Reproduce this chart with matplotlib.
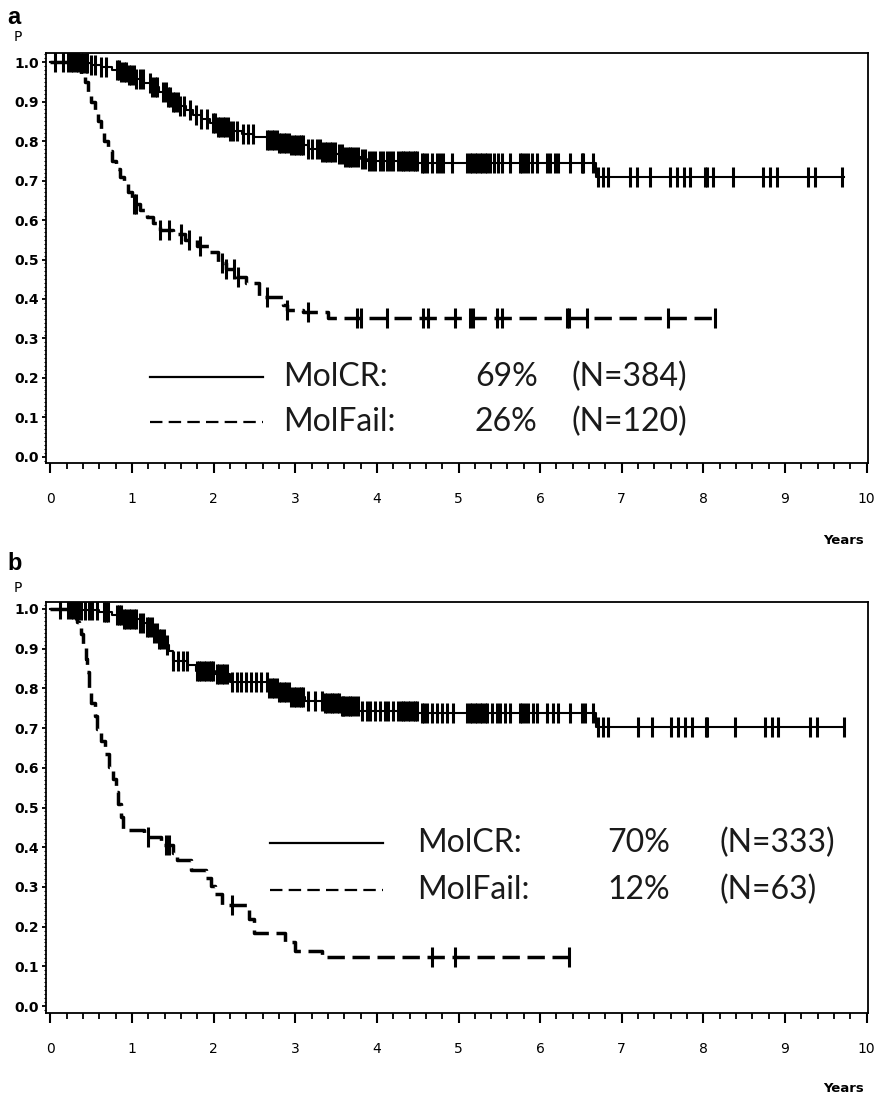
import numpy as np
import matplotlib
matplotlib.use('Agg')
import matplotlib.pyplot as plt
from matplotlib.ticker import MultipleLocator

# ---- data ----
# panel a
a_cr_t = [0.35, 0.5, 0.62, 0.75, 0.85, 0.95, 1.05, 1.15, 1.25, 1.33, 1.42, 1.5, 1.58, 1.66,
          1.75, 1.85, 1.95, 2.05, 2.2, 2.35, 2.5, 2.65, 2.8, 2.95, 3.15, 3.32, 3.5, 3.6, 3.8,
          3.88, 4.5, 6.68]
a_cr_s = [0.997, 0.992, 0.987, 0.98, 0.974, 0.967, 0.958, 0.948, 0.937, 0.925, 0.912, 0.9,
          0.889, 0.878, 0.866, 0.855, 0.845, 0.835, 0.826, 0.818, 0.81, 0.803, 0.796, 0.789,
          0.781, 0.772, 0.766, 0.76, 0.755, 0.75, 0.745, 0.709]
a_cr_cens = [0.05, 0.15, 0.22, 0.25, 0.28, 0.31, 0.34, 0.37, 0.4, 0.43, 0.45, 0.5, 0.55, 0.62,
             0.68, 0.81, 0.84, 0.87, 0.9, 0.93, 0.96, 0.99, 1.02, 1.05, 1.1, 1.13, 1.22, 1.25,
             1.28, 1.3, 1.38, 1.41, 1.44, 1.47, 1.5, 1.53, 1.56, 1.59, 1.63, 1.71, 1.78, 1.85,
             1.92, 1.99, 2.02, 2.05, 2.08, 2.11, 2.14, 2.17, 2.2, 2.24, 2.28, 2.36, 2.42, 2.48,
             2.65, 2.68, 2.71, 2.74, 2.77, 2.8, 2.83, 2.86, 2.89, 2.92, 2.95, 2.98, 3.01, 3.04,
             3.07, 3.09, 3.16, 3.21, 3.27, 3.3, 3.33, 3.36, 3.39, 3.42, 3.45, 3.49, 3.53, 3.57,
             3.61, 3.64, 3.67, 3.7, 3.73, 3.77, 3.82, 3.86, 3.9, 3.94, 3.98, 4.04, 4.07, 4.12,
             4.16, 4.2, 4.26, 4.29, 4.32, 4.35, 4.38, 4.41, 4.44, 4.47, 4.49, 4.55, 4.58, 4.61,
             4.67, 4.74, 4.77, 4.81, 4.92, 5.11, 5.14, 5.17, 5.2, 5.23, 5.26, 5.29, 5.32, 5.35,
             5.39, 5.43, 5.49, 5.53, 5.63, 5.75, 5.78, 5.81, 5.85, 5.9, 5.96, 6.08, 6.12, 6.18,
             6.22, 6.37, 6.51, 6.53, 6.65, 6.71, 6.77, 6.83, 7.1, 7.19, 7.35, 7.59, 7.68, 7.76,
             7.84, 8.02, 8.04, 8.12, 8.36, 8.73, 8.82, 8.9, 9.28, 9.37, 9.7]

a_fail_t = [0.34, 0.38, 0.42, 0.46, 0.5, 0.54, 0.58, 0.62, 0.66, 0.7, 0.75, 0.8, 0.85, 0.9,
            0.95, 1.0, 1.1, 1.18, 1.26, 1.34, 1.5, 1.65, 1.8, 1.95, 2.05, 2.15, 2.27, 2.4,
            2.55, 2.85, 2.9, 3.1, 3.4]
a_fail_s = [0.983, 0.967, 0.95, 0.925, 0.9, 0.875, 0.85, 0.825, 0.8, 0.775, 0.75, 0.73, 0.71,
            0.69, 0.67, 0.64, 0.625, 0.608, 0.592, 0.575, 0.565, 0.55, 0.535, 0.52, 0.49,
            0.475, 0.456, 0.44, 0.405, 0.385, 0.372, 0.366, 0.352]
a_fail_cens = [1.02, 1.05, 1.34, 1.45, 1.6, 1.7, 1.83, 2.1, 2.15, 2.25, 2.3, 2.65, 2.9, 3.15,
               3.75, 3.8, 4.12, 4.57, 4.62, 4.96, 5.14, 5.18, 5.47, 5.53, 6.33, 6.35, 6.57,
               7.57, 8.14]

# panel b
b_cr_t = [0.3, 0.6, 0.75, 0.9, 1.1, 1.18, 1.25, 1.32, 1.4, 1.45, 1.5, 1.68, 1.78, 2.02, 2.2,
          2.68, 2.8, 2.95, 3.12, 3.35, 3.57, 3.78, 4.5, 6.68]
b_cr_s = [0.997, 0.993, 0.985, 0.975, 0.965, 0.955, 0.94, 0.925, 0.91, 0.895, 0.87, 0.858,
          0.845, 0.835, 0.816, 0.8, 0.79, 0.779, 0.768, 0.764, 0.756, 0.743, 0.739, 0.703]
b_cr_cens = [0.12, 0.22, 0.25, 0.28, 0.31, 0.34, 0.38, 0.42, 0.47, 0.51, 0.57, 0.65, 0.68,
             0.71, 0.81, 0.84, 0.87, 0.9, 0.93, 0.96, 0.99, 1.02, 1.05, 1.1, 1.13, 1.18, 1.21,
             1.24, 1.27, 1.3, 1.33, 1.36, 1.39, 1.43, 1.5, 1.56, 1.62, 1.67, 1.79, 1.82, 1.85,
             1.88, 1.91, 1.94, 1.97, 1.99, 2.04, 2.07, 2.1, 2.13, 2.16, 2.22, 2.28, 2.34, 2.4,
             2.46, 2.52, 2.58, 2.65, 2.68, 2.71, 2.74, 2.77, 2.8, 2.83, 2.86, 2.89, 2.92, 2.95,
             2.98, 3.01, 3.04, 3.07, 3.09, 3.16, 3.24, 3.33, 3.37, 3.39, 3.42, 3.45, 3.48, 3.51,
             3.54, 3.57, 3.58, 3.61, 3.64, 3.67, 3.7, 3.73, 3.77, 3.82, 3.88, 3.91, 3.98, 4.04,
             4.1, 4.14, 4.2, 4.26, 4.29, 4.32, 4.35, 4.38, 4.41, 4.44, 4.47, 4.49, 4.55, 4.58,
             4.61, 4.67, 4.74, 4.8, 4.86, 4.93, 5.11, 5.14, 5.17, 5.2, 5.23, 5.26, 5.29, 5.32,
             5.35, 5.41, 5.47, 5.51, 5.57, 5.63, 5.75, 5.78, 5.81, 5.85, 5.91, 5.96, 6.08, 6.16,
             6.22, 6.37, 6.51, 6.55, 6.65, 6.71, 6.77, 6.83, 7.2, 7.37, 7.61, 7.69, 7.77, 7.86,
             8.03, 8.05, 8.39, 8.76, 8.84, 8.92, 9.31, 9.39, 9.72]

b_fail_t = [0.3, 0.33, 0.35, 0.37, 0.4, 0.43, 0.45, 0.47, 0.5, 0.54, 0.57, 0.62, 0.67, 0.72,
            0.77, 0.8, 0.83, 0.86, 0.89, 1.15, 1.35, 1.5, 1.55, 1.72, 1.9, 1.97, 2.02, 2.1,
            2.43, 2.5, 2.87, 3.0, 3.33]
b_fail_s = [0.984, 0.968, 0.952, 0.936, 0.905, 0.873, 0.841, 0.794, 0.762, 0.73, 0.698,
            0.667, 0.635, 0.603, 0.571, 0.54, 0.508, 0.476, 0.444, 0.425, 0.405, 0.386, 0.368,
            0.343, 0.323, 0.303, 0.283, 0.254, 0.22, 0.184, 0.161, 0.138, 0.123]
b_fail_cens = [1.2, 1.42, 1.45, 2.22, 4.68, 4.96, 6.35]

groups = ['MolCR:', 'MolFail:']
pct_a = ['69%', '26%']
n_a = ['(N=384)', '(N=120)']
pct_b = ['70%', '12%']
n_b = ['(N=333)', '(N=63)']


def km_value(t_ev, s_ev, t):
    # survival just after time t (post step)
    idx = np.searchsorted(np.array(t_ev), np.array(t), side='right')
    s = np.concatenate([[1.0], s_ev])
    return s[idx]


def km_plot(ax, t_ev, s_ev, cens, t_end, dashed):
    x = np.concatenate([[0.0], t_ev, [t_end]])
    y = np.concatenate([[1.0], s_ev, [s_ev[-1]]])
    if dashed:
        ax.step(x, y, where='post', color='black', lw=2.5, dashes=(5, 2.2),
                solid_capstyle='butt', dash_capstyle='butt')
    else:
        ax.step(x, y, where='post', color='black', lw=1.5)
    ax.plot(cens, km_value(t_ev, s_ev, cens), ls='none', marker='|', ms=14.5,
            mew=2.2, color='black')


def style_axes(ax, ylim):
    ax.set_xlim(-0.055, 10.018)
    ax.set_ylim(*ylim)
    for sp in ax.spines.values():
        sp.set_linewidth(1.3)
    ax.xaxis.set_major_locator(MultipleLocator(1))
    ax.xaxis.set_minor_locator(MultipleLocator(0.2))
    ax.yaxis.set_major_locator(MultipleLocator(0.1))
    ax.yaxis.set_minor_locator(MultipleLocator(0.01))
    ax.set_xticks(range(0, 11))
    ax.set_xticklabels([str(i) for i in range(0, 11)])
    ax.set_yticks(np.round(np.arange(0, 1.01, 0.1), 1))
    ax.set_yticklabels(['%.1f' % v for v in np.arange(0, 1.01, 0.1)])
    ax.tick_params(axis='x', which='major', direction='out', length=7, width=1.5, pad=14,
                   labelsize=10)
    ax.tick_params(axis='x', which='minor', direction='out', length=4, width=1.3)
    ax.tick_params(axis='y', which='major', direction='out', length=3, width=1.3, pad=2,
                   labelsize=10)
    ax.tick_params(axis='y', which='minor', direction='out', length=1.5, width=0.8)
    for lab in ax.get_yticklabels():
        lab.set_fontweight('bold')


def legend(ax, line_x, y_rows, txt_x, pcts, ns):
    ax.plot(line_x, [y_rows[0]] * 2, color='black', lw=1.6)
    ax.plot(line_x, [y_rows[1]] * 2, color='black', lw=1.6, dashes=(5.6, 2.8))
    for i in range(2):
        ax.text(txt_x[0], y_rows[i], groups[i], fontsize=23, family='Lato', color='#1a1a1a',
                va='center', ha='left')
        ax.text(txt_x[1], y_rows[i], pcts[i], fontsize=23, family='Lato', color='#1a1a1a',
                va='center', ha='left')
        ax.text(txt_x[2], y_rows[i], ns[i], fontsize=23, family='Lato', color='#1a1a1a',
                va='center', ha='left')


fig = plt.figure(figsize=(8.78, 10.98), dpi=100)
ax1 = fig.add_axes([46 / 878, 1 - 463 / 1098, 822 / 878, 410 / 1098])
ax2 = fig.add_axes([46 / 878, 1 - 1013 / 1098, 822 / 878, 411 / 1098])

km_plot(ax1, a_cr_t, a_cr_s, a_cr_cens, 9.72, False)
km_plot(ax1, a_fail_t, a_fail_s, a_fail_cens, 8.14, True)
style_axes(ax1, (-0.0152, 1.0228))
legend(ax1, [1.22, 2.6], [0.203, 0.089], [2.85, 5.2, 6.39], pct_a, n_a)

km_plot(ax2, b_cr_t, b_cr_s, b_cr_cens, 9.72, False)
km_plot(ax2, b_fail_t, b_fail_s, b_fail_cens, 6.35, True)
style_axes(ax2, (-0.0176, 1.0176))
legend(ax2, [2.69, 4.07], [0.41, 0.292], [4.49, 6.82, 8.2], pct_b, n_b)

# panel letters, P and Years
fig.text(7 / 878, 1 - 18 / 1098, 'a', fontsize=17, fontweight='bold', family='Liberation Sans',
         va='center', ha='left')
fig.text(7 / 878, 1 - 563 / 1098, 'b', fontsize=17, fontweight='bold', family='Liberation Sans',
         va='center', ha='left')
fig.text(14 / 878, 1 - 37 / 1098, 'P', fontsize=10, va='center', ha='left')
fig.text(14 / 878, 1 - 588 / 1098, 'P', fontsize=10, va='center', ha='left')
fig.text(864 / 878, 1 - 540 / 1098, 'Years', fontsize=9.5, fontweight='bold',
         va='center', ha='right')
fig.text(864 / 878, 1 - 1088 / 1098, 'Years', fontsize=9.5, fontweight='bold',
         va='center', ha='right')

fig.savefig('out.png', dpi=100)
